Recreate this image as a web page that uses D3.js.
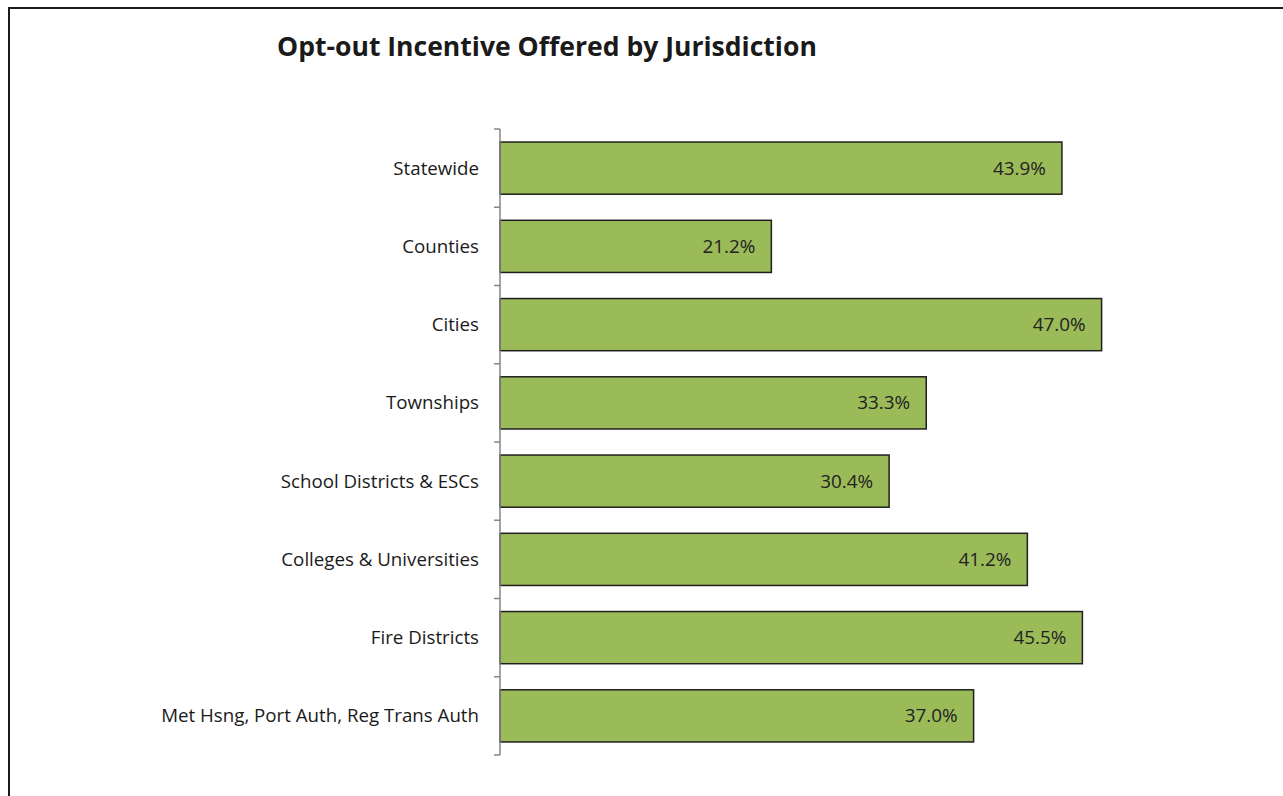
<!DOCTYPE html>
<html>
<head>
<meta charset="utf-8">
<script src="https://cdn.jsdelivr.net/npm/d3@7"></script>
<style>
  html, body { margin: 0; padding: 0; background: #fff; }
  svg { display: block; }
</style>
</head>
<body>
<svg id="chart" width="1283" height="796"></svg>
<script>
// Jurisdiction categories, top to bottom
const categories = [
  "Statewide",
  "Counties",
  "Cities",
  "Townships",
  "School Districts & ESCs",
  "Colleges & Universities",
  "Fire Districts",
  "Met Hsng, Port Auth, Reg Trans Auth"
];
// Share offering an opt-out incentive (%)
const values = [43.9, 21.2, 47.0, 33.3, 30.4, 41.2, 45.5, 37.0];
const titleText = "Opt-out Incentive Offered by Jurisdiction";

const svg = d3.select("#chart");
const font = "'Open Sans', Lato, sans-serif";

// scale a text selection's font size so its widest item spans `target` px
function fitWidth(sel, base, target) {
  sel.attr("font-size", base);
  let w = 0;
  sel.each(function () { w = Math.max(w, this.getComputedTextLength()); });
  if (w > 0) sel.attr("font-size", base * target / w);
}

// outer frame
svg.append("rect")
  .attr("x", 9).attr("y", 8)
  .attr("width", 1290).attr("height", 800)
  .attr("fill", "none").attr("stroke", "#1a1a1a").attr("stroke-width", 2);

const title = svg.append("text")
  .attr("x", 277).attr("y", 56)
  .attr("font-family", font).attr("font-weight", "bold")
  .attr("fill", "#1a1a1a")
  .text(titleText);
fitWidth(title, 25, 540);

const x = d3.scaleLinear().domain([0, 50]).range([500, 1140]);
const y = d3.scaleBand().domain(categories).range([129, 755])
  .paddingInner(1 / 3).paddingOuter(1 / 6);

// bars
svg.append("g").selectAll("rect")
  .data(values)
  .join("rect")
  .attr("x", x(0))
  .attr("y", (d, i) => y(categories[i]))
  .attr("width", d => x(d) - x(0))
  .attr("height", y.bandwidth())
  .attr("fill", "#9BBB59")
  .attr("stroke", "#1f1f1f")
  .attr("stroke-width", 1.5);

// value labels inside bar ends
const valueLabels = svg.append("g").selectAll("text")
  .data(values)
  .join("text")
  .attr("x", d => x(d) - 16)
  .attr("y", (d, i) => y(categories[i]) + y.bandwidth() / 2)
  .attr("dy", "0.35em")
  .attr("text-anchor", "end")
  .attr("font-family", font)
  .attr("fill", "#222")
  .text(d => d.toFixed(1) + "%");
fitWidth(valueLabels, 16, 53);

// category axis with ticks at band boundaries
const axisG = svg.append("g");
axisG.append("line")
  .attr("x1", x(0)).attr("x2", x(0))
  .attr("y1", y.range()[0]).attr("y2", y.range()[1])
  .attr("stroke", "#868686").attr("stroke-width", 1.5);
const step = y.step();
const bounds = d3.range(categories.length + 1).map(i => y.range()[0] + i * step);
axisG.selectAll("line.tick")
  .data(bounds)
  .join("line")
  .attr("class", "tick")
  .attr("x1", x(0) - 6).attr("x2", x(0))
  .attr("y1", d => d).attr("y2", d => d)
  .attr("stroke", "#868686").attr("stroke-width", 1.5);

const catLabels = axisG.selectAll("text")
  .data(categories)
  .join("text")
  .attr("x", x(0) - 21)
  .attr("y", d => y(d) + y.bandwidth() / 2)
  .attr("dy", "0.35em")
  .attr("text-anchor", "end")
  .attr("font-family", font)
  .attr("fill", "#1a1a1a")
  .text(d => d);
fitWidth(catLabels, 17, 318);
</script>
</body>
</html>
